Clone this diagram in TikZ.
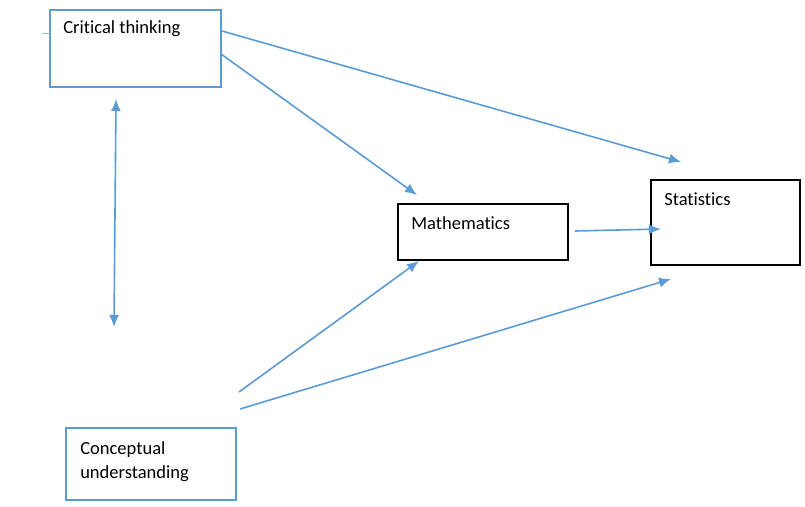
\documentclass[tikz,border=0pt]{standalone}
\usepackage{fontspec}
\setmainfont{Carlito}[Ligatures=NoCommon]
\usetikzlibrary{arrows.meta, positioning, calc}
\definecolor{lineblue}{HTML}{5B9BD5}

\begin{document}
\begin{tikzpicture}[x=0.75pt, y=-0.75pt, >={Latex[length=9pt, width=7.5pt]},
    box/.style={draw, rectangle, line width=1pt, inner sep=0pt},
    bluebox/.style={box, draw=lineblue},
    lbl/.style={anchor=base west, inner sep=0pt, align=left, font=\fontsize{13.9}{17.3}\selectfont},
    link/.style={draw=lineblue, line width=1.2pt, ->}]
    \useasboundingbox (0,0) rectangle (805,506);
    % boxes
    \node[bluebox, minimum width=128.25pt, minimum height=57.75pt] (crit) at (135.5,48.5) {};
    \node[box, minimum width=127.5pt, minimum height=42pt] (math) at (483,232) {};
    \node[box, minimum width=111.75pt, minimum height=63.75pt] (stat) at (725.5,222.5) {};
    \node[bluebox, minimum width=127.5pt, minimum height=54pt] (conc) at (151,464) {};
    % labels
    \node[lbl] (critlbl) at (63,34) {Critical thinking};
    \node[lbl] (mathlbl) at (411,229) {Mathematics};
    \node[lbl] (statlbl) at (664,205) {Statistics};
    \node[lbl] (conclbl) at (80,478) {Conceptual\\understanding};
    % stray tick
    \coordinate (tickA) at (42,33);
    \coordinate (tickB) at (50,33);
    \draw[lineblue!70, line width=0.4pt] (tickA) -- (tickB);
    % arrow ends
    \coordinate (critA) at (222,31);
    \coordinate (critB) at (221,54);
    \coordinate (critC) at (116,99);
    \coordinate (concC) at (114,327);
    \coordinate (concA) at (239,392);
    \coordinate (concB) at (240,409);
    \coordinate (mathIn1) at (417,195);
    \coordinate (mathIn2) at (419,261);
    \coordinate (mathOut) at (575,231);
    \coordinate (statIn1) at (681,162);
    \coordinate (statIn2) at (661,229);
    \coordinate (statIn3) at (671,279);
    % connectors
    \draw[link] (critA) -- (statIn1);
    \draw[link] (critB) -- (mathIn1);
    \draw[link, <->] (critC) -- (concC);
    \draw[link] (concA) -- (mathIn2);
    \draw[link] (concB) -- (statIn3);
    \draw[link] (mathOut) -- (statIn2);
\end{tikzpicture}
\end{document}
